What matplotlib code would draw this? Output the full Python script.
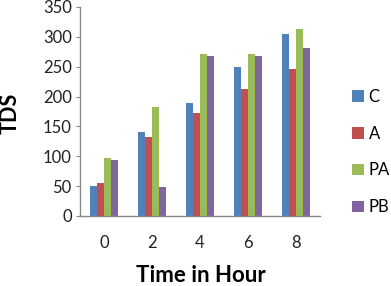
import matplotlib
matplotlib.use("Agg")
import matplotlib.pyplot as plt
import numpy as np

plt.rcParams['font.family'] = ['Lato', 'DejaVu Sans']

categories = ['0', '2', '4', '6', '8']
series_names = ['C', 'A', 'PA', 'PB']
C = [50, 140, 190, 250, 305]
A = [55, 133, 173, 212, 246]
PA = [97, 182, 271, 271, 313]
PB = [94, 48, 268, 268, 281]
colors = ['#4F81BD', '#C0504D', '#9BBB59', '#8064A2']
yticks = [0, 50, 100, 150, 200, 250, 300, 350]

fig = plt.figure(figsize=(3.91, 2.86), dpi=100)
ax = fig.add_axes([80/391, 1 - 216/286, 240/391, 209/286])

x = np.arange(len(categories))
w = 0.147
data = [C, A, PA, PB]
for i, (vals, name, col) in enumerate(zip(data, series_names, colors)):
    ax.bar(x + (i - 1.5) * w, vals, width=w, color=col, label=name, zorder=2)

ax.set_xlim(-0.5, 4.5)
ax.set_ylim(0, 350)
ax.set_yticks(yticks)
ax.set_xticks(x)
ax.set_xticklabels(categories)
for s in ['top', 'right']:
    ax.spines[s].set_visible(False)
for s in ['left', 'bottom']:
    ax.spines[s].set_color('#888888')
    ax.spines[s].set_linewidth(1.0)
ax.tick_params(axis='y', length=3, color='#888888', labelsize=12, pad=3,
               labelcolor='#222222')
ax.tick_params(axis='x', length=0, labelsize=12, pad=14, labelcolor='#222222')

fig.text(10/391, 1 - 113/286, 'TDS', rotation=90, fontsize=15.5, fontweight='bold',
         ha='center', va='center')
fig.text(201/391, 1 - 275/286, 'Time in Hour', fontsize=16, fontweight='bold',
         ha='center', va='center')

handles, labels = ax.get_legend_handles_labels()
fig.legend(handles, labels, loc='center left', bbox_to_anchor=(352/391, 1 - 152/286),
           frameon=False, fontsize=12, handlelength=0.7, handleheight=0.7,
           handletextpad=0.3, labelspacing=1.25, borderpad=0, borderaxespad=0)

fig.savefig('out.png', dpi=100)
